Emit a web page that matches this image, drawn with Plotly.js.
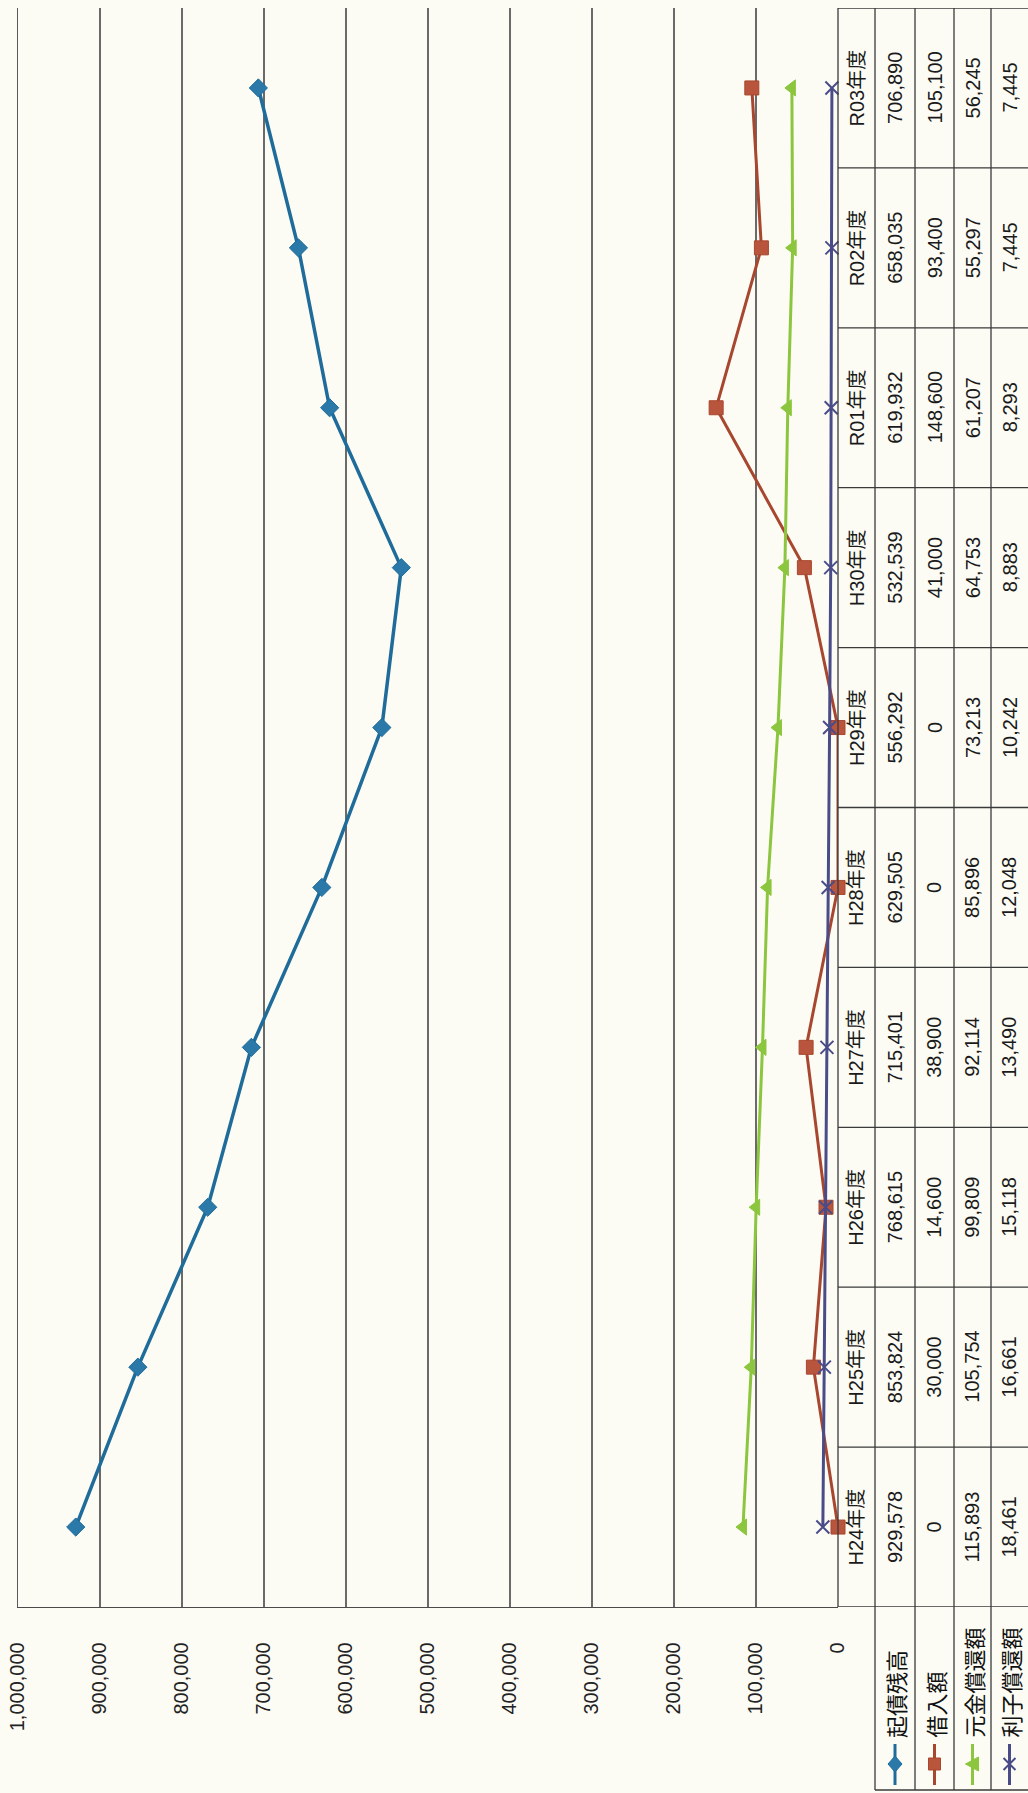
<!DOCTYPE html>
<html>
<head>
<meta charset="utf-8">
<script src="https://cdn.plot.ly/plotly-3.0.1.min.js"></script>
<style>
html,body{margin:0;padding:0;background:#fcfcf5;}
#chart{width:1028px;height:1793px;}
</style>
</head>
<body>
<div id="chart"></div>
<script>
// ---- data ----
const categories = ['H24年度','H25年度','H26年度','H27年度','H28年度','H29年度','H30年度','R01年度','R02年度','R03年度'];
const kisaiZandaka = [929578, 853824, 768615, 715401, 629505, 556292, 532539, 619932, 658035, 706890];
const kariireGaku  = [0, 30000, 14600, 38900, 0, 0, 41000, 148600, 93400, 105100];
const gankinShokan = [115893, 105754, 99809, 92114, 85896, 73213, 64753, 61207, 55297, 56245];
const rishiShokan  = [18461, 16661, 15118, 13490, 12048, 10242, 8883, 8293, 7445, 7445];
const seriesNames  = ['起債残高', '借入額', '元金償還額', '利子償還額'];
const valueTicks   = [0, 100000, 200000, 300000, 400000, 500000, 600000, 700000, 800000, 900000, 1000000];

// ---- styles ----
const seriesData = [kisaiZandaka, kariireGaku, gankinShokan, rishiShokan];
const colors = ['#1f6c9b', '#a8472f', '#8cc63e', '#4a4c88'];
const markerColors = ['#2a79a8', '#b9553c', '#8cc63e', '#4a4c88'];
const symbols = ['diamond', 'square', 'triangle-left', 'x-thin'];
const lineWidths = [3.5, 3, 3, 3];

const W = 1028, H = 1793;
const L = 18, R = 838, T = 8, B = 1607;
const X = p => (p - L) / (R - L);
const Y = p => (B - p) / (B - T);

const fmt = v => v.toLocaleString('en-US');
const textFont = {family: 'Liberation Sans, Noto Sans CJK JP, sans-serif', size: 20, color: '#1a1a1a'};

const traces = seriesData.map((d, k) => ({
  type: 'scatter', mode: 'lines+markers',
  name: seriesNames[k],
  x: d, y: categories,
  line: {color: colors[k], width: lineWidths[k]},
  marker: k === 3
    ? {symbol: symbols[k], size: 13, color: colors[k], line: {color: colors[k], width: 2}}
    : {symbol: symbols[k], size: 14, color: markerColors[k], line: {color: colors[k], width: 1}},
  cliponaxis: false,
  hoverinfo: 'x+y+name'
}));

// table geometry (pixels)
const headerCol = [838, 875];
const rowCols = [[875, 915], [915, 954], [954, 991], [991, 1028]];
const tableBottom = 1790;

const shapes = [];
const annotations = [];
const gridLine = {color: '#3a3a3a', width: 1.3};

// horizontal boundaries of category cells
for (let i = 0; i <= categories.length; i++) {
  shapes.push({type: 'line', xref: 'paper', yref: 'y', x0: X(838), x1: X(1028), y0: i - 0.5, y1: i - 0.5, line: gridLine});
}
// vertical lines
shapes.push({type: 'line', xref: 'paper', yref: 'y', x0: X(838), x1: X(838), y0: -0.5, y1: categories.length - 0.5, line: gridLine});
rowCols.forEach(c => {
  shapes.push({type: 'line', xref: 'paper', yref: 'paper', x0: X(c[0]), x1: X(c[0]), y0: Y(tableBottom), y1: Y(T), line: gridLine});
});
shapes.push({type: 'line', xref: 'paper', yref: 'paper', x0: X(875), x1: X(1028), y0: Y(tableBottom), y1: Y(tableBottom), line: gridLine});

// cell texts
categories.forEach((c, i) => {
  annotations.push({xref: 'paper', yref: 'y', x: X((headerCol[0] + headerCol[1]) / 2), y: c, text: c,
    textangle: -90, showarrow: false, font: textFont, xanchor: 'center', yanchor: 'middle'});
  seriesData.forEach((d, k) => {
    annotations.push({xref: 'paper', yref: 'y', x: X((rowCols[k][0] + rowCols[k][1]) / 2), y: c, text: fmt(d[i]),
      textangle: -90, showarrow: false, font: textFont, xanchor: 'center', yanchor: 'middle'});
  });
});

// legend cells
const markerPaths = [
  'M 0 8 L 7 0 L 0 -8 L -7 0 Z',
  'M -6 -6 L 6 -6 L 6 6 L -6 6 Z',
  'M -7 0 L 6 7 L 6 -7 Z',
  'M -6 -6 L 6 6 M -6 6 L 6 -6'
];
seriesNames.forEach((n, k) => {
  const cx = (rowCols[k][0] + rowCols[k][1]) / 2;
  shapes.push({type: 'line', xref: 'paper', yref: 'paper', x0: X(cx), x1: X(cx), y0: Y(1744), y1: Y(1785),
    line: {color: colors[k], width: 3}});
  shapes.push({type: 'path', xref: 'paper', yref: 'paper', xsizemode: 'pixel', ysizemode: 'pixel',
    xanchor: X(cx), yanchor: Y(1764), path: markerPaths[k],
    fillcolor: k === 3 ? 'rgba(0,0,0,0)' : markerColors[k], line: {color: colors[k], width: k === 3 ? 2 : 1}});
  annotations.push({xref: 'paper', yref: 'paper', x: X(cx), y: Y(1740), text: n, textangle: -90, showarrow: false,
    font: {family: 'Noto Sans CJK JP, sans-serif', size: 22, color: '#111'}, xanchor: 'center', yanchor: 'bottom'});
});

const layout = {
  width: W, height: H,
  margin: {l: L, r: W - R, t: T, b: H - B, pad: 0},
  paper_bgcolor: '#fcfcf5', plot_bgcolor: '#fcfcf5',
  showlegend: false,
  xaxis: {
    range: [1000000, 0], tickvals: valueTicks, ticktext: valueTicks.map(fmt),
    tickangle: -90, ticks: '', ticklabelstandoff: 26,
    tickfont: {family: 'Liberation Sans, Arial, sans-serif', size: 20, color: '#222'},
    showgrid: true, gridcolor: '#6a6a6a', gridwidth: 1.2,
    zeroline: false, showline: true, linecolor: '#4a4a4a', linewidth: 1.3
  },
  yaxis: {
    type: 'category', categoryorder: 'array', categoryarray: categories,
    range: [-0.5, categories.length - 0.5], side: 'left',
    showgrid: false, showticklabels: false, zeroline: false,
    showline: true, linecolor: '#5a5a5a', linewidth: 1.3, ticks: ''
  },
  shapes: shapes,
  annotations: annotations
};

Plotly.newPlot('chart', traces, layout, {displayModeBar: false, staticPlot: true});
</script>
</body>
</html>
